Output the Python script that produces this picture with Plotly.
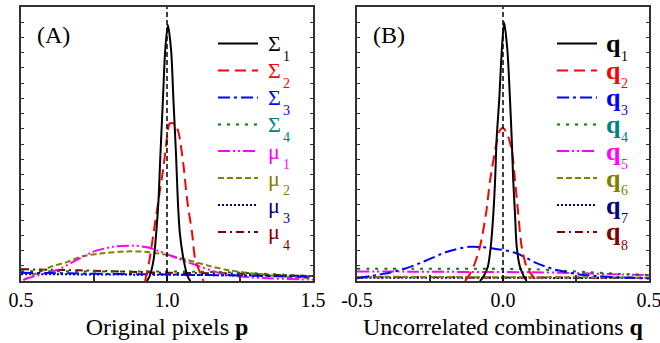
import plotly.graph_objects as go

# ---------------- data ----------------
# Panel A : original pixels p
a_s1_x = [0.931, 0.940, 0.954, 0.963, 0.971, 0.977, 0.986, 0.994, 1.003, 1.014, 1.022, 1.031, 1.037, 1.044, 1.057, 1.071, 1.080]
a_s1_y = [0.0, 0.016, 0.077, 0.175, 0.296, 0.450, 0.661, 0.843, 0.934, 0.843, 0.661, 0.460, 0.296, 0.175, 0.077, 0.016, 0.0]
a_s2_x = [0.925, 0.940, 0.954, 0.971, 0.988, 1.002, 1.008, 1.017, 1.029, 1.040, 1.057, 1.069, 1.086, 1.097, 1.114, 1.125]
a_s2_y = [0.0, 0.077, 0.175, 0.296, 0.417, 0.540, 0.573, 0.577, 0.569, 0.540, 0.417, 0.296, 0.175, 0.077, 0.029, 0.0]
a_flat_x = [0.5, 0.6, 0.7, 0.8, 0.9, 1.0, 1.1, 1.2, 1.3, 1.4, 1.5]
a_s3_y = [0.030, 0.029, 0.027, 0.026, 0.025, 0.024, 0.022, 0.021, 0.019, 0.017, 0.015]
a_s4_y = [0.036, 0.036, 0.035, 0.035, 0.035, 0.035, 0.034, 0.032, 0.028, 0.023, 0.018]
a_m1_x = [0.508, 0.542, 0.623, 0.691, 0.748, 0.817, 0.886, 0.932, 0.978, 1.035, 1.115, 1.184, 1.253, 1.344, 1.459, 1.5]
a_m1_y = [0.004, 0.016, 0.040, 0.077, 0.107, 0.125, 0.129, 0.123, 0.107, 0.083, 0.052, 0.028, 0.016, 0.010, 0.006, 0.005]
a_m2_x = [0.508, 0.542, 0.600, 0.657, 0.714, 0.771, 0.863, 0.932, 1.000, 1.069, 1.138, 1.207, 1.321, 1.401, 1.493]
a_m2_y = [0.004, 0.022, 0.051, 0.069, 0.091, 0.100, 0.108, 0.106, 0.095, 0.077, 0.057, 0.040, 0.024, 0.016, 0.010]
a_m3_y = [0.025, 0.025, 0.024, 0.024, 0.023, 0.023, 0.022, 0.021, 0.020, 0.019, 0.018]
a_m4_y = [0.043, 0.041, 0.039, 0.036, 0.033, 0.030, 0.029, 0.028, 0.025, 0.021, 0.018]

# Panel B : uncorrelated combinations q
b_q1_x = [-0.079, -0.067, -0.052, -0.042, -0.033, -0.027, -0.022, -0.013, -0.004, 0.004, 0.015, 0.024, 0.030, 0.035, 0.041, 0.047, 0.058, 0.072, 0.081]
b_q1_y = [0.0, 0.016, 0.052, 0.125, 0.247, 0.369, 0.515, 0.661, 0.843, 0.943, 0.843, 0.661, 0.515, 0.369, 0.247, 0.125, 0.052, 0.016, 0.0]
b_q2_x = [-0.130, -0.119, -0.101, -0.079, -0.058, -0.044, -0.022, -0.010, 0.0, 0.013, 0.030, 0.041, 0.052, 0.064, 0.081, 0.103, 0.116]
b_q2_y = [0.0, 0.016, 0.052, 0.125, 0.247, 0.369, 0.504, 0.551, 0.558, 0.540, 0.478, 0.369, 0.247, 0.125, 0.052, 0.016, 0.0]
b_q3_x = [-0.5, -0.41, -0.342, -0.273, -0.191, -0.113, -0.034, 0.047, 0.115, 0.184, 0.275, 0.468, 0.5]
b_q3_y = [0.010, 0.026, 0.043, 0.070, 0.107, 0.125, 0.119, 0.101, 0.065, 0.040, 0.022, 0.010, 0.009]
b_flat_x = [-0.5, -0.3, -0.1, 0.1, 0.2, 0.3, 0.4, 0.5]
b_q4_y = [0.045, 0.045, 0.045, 0.043, 0.038, 0.032, 0.026, 0.022]
b_q5_y = [0.035, 0.034, 0.033, 0.032, 0.030, 0.027, 0.024, 0.022]
b_q6_y = [0.015, 0.015, 0.014, 0.014, 0.014, 0.013, 0.013, 0.012]
b_q7_y = [0.012, 0.012, 0.012, 0.012, 0.011, 0.011, 0.011, 0.011]
b_q8_y = [0.014, 0.014, 0.013, 0.013, 0.013, 0.012, 0.012, 0.012]

ref_lines = [1.0, 0.0]
a_ticks = [0.5, 0.75, 1.0, 1.25, 1.5]
a_ticktext = ["0.5", "", "1.0", "", "1.5"]
b_ticks = [-0.5, -0.25, 0.0, 0.25, 0.5]
b_ticktext = ["-0.5", "", "0.0", "", "0.5"]

a_symbols = ["Σ", "Σ", "Σ", "Σ", "μ", "μ", "μ", "μ"]
b_symbols = ["q"] * 8
a_subs = ["1", "2", "3", "4", "1", "2", "3", "4"]
b_subs = ["1", "2", "3", "4", "5", "6", "7", "8"]

# ---------------- styles ----------------
line_colors = ["#000000", "#ff0000", "#0000ff", "#008000", "#ff00ff", "#808000", "#000080", "#800000"]
text_colors = ["#000000", "#ff0000", "#0000ff", "#008080", "#ff00ff", "#808000", "#000080", "#800000"]
dashes = ["solid", "11px,6px", "12px,4px,3px,4px", "3px,6px", "12px,3px,2px,3px,2px,3px", "6px,3px", "2px,2px", "8px,4px,2px,4px"]
FONT = "Liberation Serif"

W, H = 660, 343
def px(x):
    return x / W
def py(y):
    return (H - y) / H

fig = go.Figure()

a_series = [(a_s1_x, a_s1_y), (a_s2_x, a_s2_y), (a_flat_x, a_s3_y), (a_flat_x, a_s4_y),
            (a_m1_x, a_m1_y), (a_m2_x, a_m2_y), (a_flat_x, a_m3_y), (a_flat_x, a_m4_y)]
b_series = [(b_q1_x, b_q1_y), (b_q2_x, b_q2_y), (b_q3_x, b_q3_y), (b_flat_x, b_q4_y),
            (b_flat_x, b_q5_y), (b_flat_x, b_q6_y), (b_flat_x, b_q7_y), (b_flat_x, b_q8_y)]

order = [7, 6, 5, 4, 3, 2, 1, 0]
for i in order:
    x, y = a_series[i]
    fig.add_trace(go.Scatter(x=x, y=y, mode="lines", xaxis="x", yaxis="y",
                             line=dict(color=line_colors[i], width=2, dash=dashes[i], shape="spline", smoothing=0.8),
                             name=a_symbols[i] + a_subs[i], showlegend=False))
for i in order:
    x, y = b_series[i]
    fig.add_trace(go.Scatter(x=x, y=y, mode="lines", xaxis="x2", yaxis="y2",
                             line=dict(color=line_colors[i], width=2, dash=dashes[i], shape="spline", smoothing=0.8),
                             name="q" + b_subs[i], showlegend=False))

shapes = []
# vertical reference lines
for xr, yr, xv in [("x", "y domain", ref_lines[0]), ("x2", "y2 domain", ref_lines[1])]:
    shapes.append(dict(type="line", xref=xr, yref=yr, x0=xv, x1=xv, y0=0, y1=1,
                       line=dict(color="black", width=1.5, dash="5px,3px")))

annotations = []
row_y = [43.5, 70.5, 97.5, 124.5, 151.0, 178.0, 205.0, 232.0]
# manual legends
for panel in range(2):
    lx0, lx1, tx = (218, 258, 266) if panel == 0 else (557, 597, 604)
    for i in range(8):
        yy = row_y[i]
        shapes.append(dict(type="line", xref="paper", yref="paper",
                           x0=px(lx0), x1=px(lx1), y0=py(yy), y1=py(yy),
                           line=dict(color=line_colors[i], width=2, dash=dashes[i])))
        if panel == 0:
            sym = a_symbols[i]
            fs = 22
            sub_x = tx + 15
        else:
            sym = "<b>q</b>"
            fs = 26
            sub_x = tx + 15
        sub = a_subs[i] if panel == 0 else b_subs[i]
        annotations.append(dict(text=sym, xref="paper", yref="paper", x=px(tx), y=py(yy),
                                xanchor="left", yanchor="middle", showarrow=False,
                                font=dict(family=FONT, size=fs, color=text_colors[i])))
        annotations.append(dict(text=sub, xref="paper", yref="paper", x=px(sub_x), y=py(yy + 13),
                                xanchor="left", yanchor="middle", showarrow=False,
                                font=dict(family=FONT, size=14, color=text_colors[i])))

annotations.append(dict(text="(A)", xref="paper", yref="paper", x=px(53), y=py(35),
                        xanchor="center", yanchor="middle", showarrow=False,
                        font=dict(family=FONT, size=24, color="black")))
annotations.append(dict(text="(B)", xref="paper", yref="paper", x=px(389), y=py(35),
                        xanchor="center", yanchor="middle", showarrow=False,
                        font=dict(family=FONT, size=24, color="black")))

axis_common = dict(showline=True, linecolor="#333333", linewidth=2, showgrid=False, zeroline=False, automargin=False)
xa = dict(axis_common, ticks="inside", ticklen=6, tickwidth=1.5, tickcolor="#333333", mirror=True,
          tickfont=dict(family=FONT, size=20, color="black"), title_standoff=8, ticklabeloverflow="allow",
          title_font=dict(family=FONT, size=24, color="black"))
ya = dict(axis_common, ticks="inside", ticklen=3, tickwidth=1.2, tickcolor="#333333", mirror="ticks",
          tickmode="linear", tick0=0, dtick=1 / 18, showticklabels=False, range=[0, 1])

fig.update_layout(
    width=W, height=H, margin=dict(l=0, r=0, t=0, b=0, autoexpand=False),
    paper_bgcolor="white", plot_bgcolor="white", showlegend=False,
    xaxis=dict(xa, domain=[px(21), px(313)], range=[0.5, 1.5], tickvals=a_ticks, ticktext=a_ticktext,
               anchor="y", title_text="Original pixels <b>p</b>"),
    yaxis=dict(ya, domain=[py(281), py(7)], anchor="x"),
    xaxis2=dict(xa, domain=[px(357), px(649)], range=[-0.5, 0.5], tickvals=b_ticks, ticktext=b_ticktext,
                anchor="y2", title_text="Uncorrelated combinations <b>q</b>"),
    yaxis2=dict(ya, domain=[py(281), py(7)], anchor="x2"),
    shapes=shapes, annotations=annotations,
)

fig.write_html("out.html", config={"displayModeBar": False},
               post_script="document.body.style.margin='0px';document.body.style.padding='0px';document.body.style.overflow='hidden';")
